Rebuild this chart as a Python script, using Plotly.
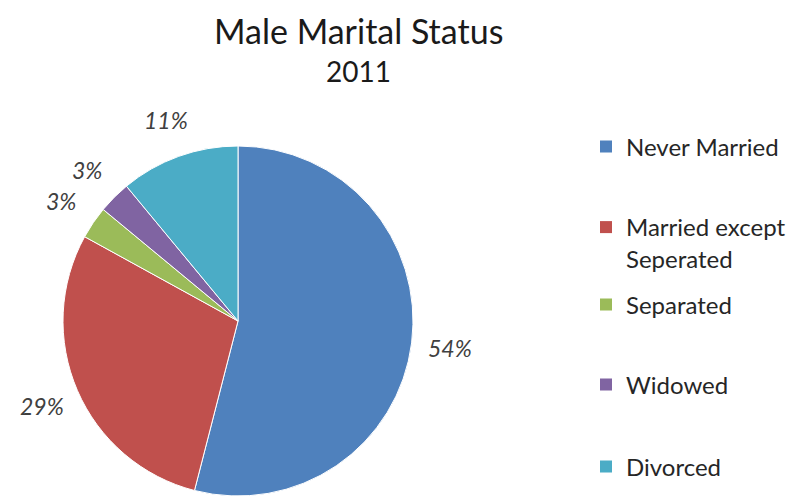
import math
import plotly.graph_objects as go

categories = ["Never Married", "Married except<br>Seperated", "Separated", "Widowed", "Divorced"]
values = [54, 29, 3, 3, 11]
colors = ["#4F81BD", "#C0504D", "#9BBB59", "#8064A2", "#4BACC6"]
title_line1 = "Male Marital Status"
title_line2 = "2011"

FONT = "Lato, 'Open Sans', sans-serif"
W, H = 798, 500

# pie geometry in pixels (layout)
CX, CY, R = 230, 313, 175
LABEL_DIST = 1.22

fig = go.Figure()
fig.add_trace(go.Pie(
    labels=categories, values=values, sort=False, direction="clockwise", rotation=0,
    marker=dict(colors=colors, line=dict(color="white", width=1)),
    textinfo="none",
    domain=dict(x=[(CX - R) / W, (CX + R) / W], y=[1 - (CY + R) / H, 1 - (CY - R) / H]),
    showlegend=False, hoverinfo="label+percent",
))

# percentage labels placed at each slice's mid-angle, outside the pie
total = sum(values)
annotations = []
cum = 0
for v in values:
    mid = (cum + v / 2) / total * 2 * math.pi
    cum += v
    px = CX + LABEL_DIST * R * math.sin(mid)
    py = CY - LABEL_DIST * R * math.cos(mid)
    annotations.append(dict(
        x=px / W, y=1 - py / H, xref="paper", yref="paper",
        text=f"{round(v / total * 100)}%", showarrow=False,
        xanchor="center", yanchor="middle",
        font=dict(family=FONT, size=23, color="#404040", style="italic"),
    ))

annotations.append(dict(x=350 / W, y=1, xref="paper", yref="paper",
                        text=title_line1, showarrow=False, xanchor="center", yanchor="top",
                        font=dict(family=FONT, size=34, color="#1a1a1a")))
annotations.append(dict(x=350 / W, y=1 - 63 / H, xref="paper", yref="paper",
                        text=title_line2, showarrow=False, xanchor="center", yanchor="middle",
                        font=dict(family=FONT, size=28, color="#1a1a1a")))

# legend rows (vertical centre of each entry, px from top)
legend_rows = [139, 235, 297, 377, 459]
legend_layout = {}
for i, (cat, col) in enumerate(zip(categories, colors)):
    lname = "legend" if i == 0 else f"legend{i+1}"
    fig.add_trace(go.Scatter(
        x=[None], y=[None], mode="markers", name=cat,
        marker=dict(symbol="square", size=12, color=col),
        legend=lname, showlegend=True,
    ))
    legend_layout[lname] = dict(
        x=578 / W, xanchor="left", y=1 - legend_rows[i] / H, yanchor="middle",
        font=dict(family=FONT, size=24, color="#262626"),
        itemsizing="constant", bgcolor="rgba(0,0,0,0)", valign="top",
    )

fig.update_layout(
    width=W, height=H,
    margin=dict(l=0, r=0, t=0, b=0, autoexpand=False),
    paper_bgcolor="white", plot_bgcolor="white",
    xaxis=dict(visible=False), yaxis=dict(visible=False),
    annotations=annotations,
    **legend_layout,
)

fig.write_html("out.html")
